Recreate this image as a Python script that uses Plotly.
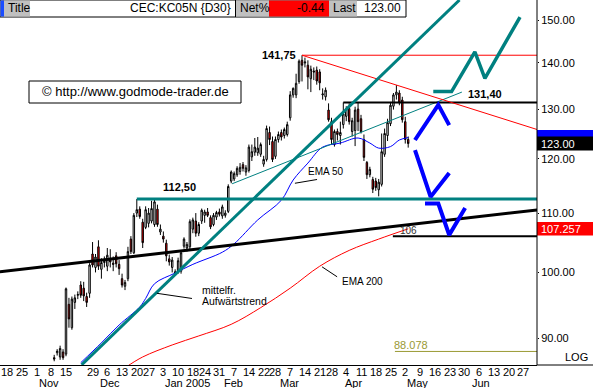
import math
import pandas as pd
import plotly.graph_objects as go

# ---------------- calendar (trading days) ----------------
holidays = ["2004-11-25", "2004-12-24", "2005-01-17", "2005-02-21", "2005-03-25"]
trading_days = pd.bdate_range("2004-10-18", "2005-07-01")
trading_days = trading_days[~trading_days.isin(pd.to_datetime(holidays))]
day_pos = {d.strftime("%Y-%m-%d"): i for i, d in enumerate(trading_days)}

# ---------------- candle data (KC May 2005, daily) ----------------
candle_start = "2004-11-09"
opens = [87.2, 87.9, 87.3, 88.0, 87.7, 95.0, 91.5, 95.3, 96.4, 98.0,
         97.5, 96.2, 96.7, 103.0, 100.8, 104.2, 100.5, 101.6, 101.0, 102.3,
         101.5, 102.7, 101.3, 99.0, 97.8, 99.0, 105.5, 103.2, 110.0, 110.7,
         108.4, 107.5, 108.2, 108.6, 108.0, 110.7, 106.7, 106.0, 104.8, 102.2,
         100.8, 100.1, 100.2, 100.2, 104.3, 104.0, 104.2, 107.2, 108.6, 106.5,
         108.6, 109.6, 110.2, 109.2, 108.0, 109.3, 110.2, 109.5, 109.6, 110.3,
         115.8, 116.2, 117.0, 117.6, 118.9, 117.5, 117.8, 120.4, 121.3, 121.2,
         120.9, 119.0, 119.9, 125.2, 123.4, 120.5, 123.8, 125.2, 124.6, 124.8,
         128.2, 133.0, 133.0, 135.9, 140.6, 140.0, 139.5, 136.5, 138.2, 138.4,
         138.0, 133.0, 132.6, 129.8, 127.4, 122.8, 125.4, 124.6, 126.8, 128.5,
         130.1, 125.4, 125.6, 130.0, 128.0, 123.8, 119.3, 117.0, 116.1, 115.8,
         114.2, 115.2, 120.9, 124.6, 127.0, 130.6, 133.0, 133.4, 131.9, 127.4,
         123.8]
highs = [87.6, 88.4, 88.9, 88.4, 97.6, 96.0, 96.2, 96.5, 97.0, 98.6,
         98.5, 96.8, 101.5, 105.0, 103.0, 105.3, 102.3, 102.6, 104.0, 103.8,
         102.6, 103.3, 102.0, 99.8, 98.8, 104.2, 106.0, 110.0, 112.5, 111.2,
         109.0, 111.2, 110.9, 112.2, 112.4, 111.5, 108.0, 106.8, 105.4, 102.9,
         102.5, 100.5, 102.4, 103.6, 105.8, 105.0, 108.9, 109.2, 110.0, 108.4,
         110.8, 110.6, 110.9, 109.6, 110.0, 110.4, 110.8, 111.5, 110.5, 115.2,
         117.8, 117.6, 118.6, 119.2, 119.4, 118.8, 122.8, 122.8, 124.1, 124.3,
         123.2, 120.6, 126.6, 126.4, 124.4, 124.4, 125.4, 125.8, 126.2, 127.4,
         133.8, 134.6, 137.6, 140.8, 141.75, 141.2, 140.6, 139.4, 139.0, 139.2,
         138.6, 134.4, 134.6, 131.2, 128.2, 125.8, 126.0, 127.4, 131.4, 130.6,
         131.2, 128.2, 130.5, 131.3, 128.8, 124.8, 119.6, 118.5, 116.6, 116.4,
         116.2, 125.0, 126.0, 128.0, 131.5, 133.4, 135.1, 134.0, 132.6, 128.4,
         124.4]
lows = [86.7, 87.5, 86.9, 86.9, 87.4, 91.5, 91.2, 94.3, 95.8, 96.0,
        95.5, 94.6, 96.0, 100.8, 100.0, 100.4, 99.0, 100.8, 100.2, 100.8,
        100.2, 100.8, 99.6, 97.6, 97.2, 98.6, 103.0, 103.0, 109.3, 109.0,
        104.0, 107.2, 107.5, 108.2, 107.6, 107.6, 106.2, 104.9, 101.8, 101.1,
        100.0, 99.5, 99.8, 99.8, 103.9, 103.4, 103.8, 106.5, 105.9, 106.0,
        108.1, 108.3, 109.3, 107.2, 107.7, 108.8, 109.4, 109.0, 109.2, 110.0,
        115.4, 115.8, 116.6, 117.0, 117.6, 116.8, 117.4, 119.6, 120.6, 120.6,
        120.4, 118.5, 119.5, 122.7, 119.4, 120.0, 123.2, 123.6, 124.0, 124.4,
        127.6, 132.4, 132.3, 135.4, 135.9, 139.0, 134.2, 133.6, 136.2, 135.2,
        134.0, 132.0, 131.8, 127.4, 122.8, 122.4, 123.6, 122.8, 126.0, 127.5,
        126.8, 124.4, 122.5, 125.5, 125.0, 119.6, 116.2, 116.5, 113.6, 114.0,
        113.0, 114.8, 120.4, 123.5, 126.5, 129.9, 132.0, 130.8, 127.2, 123.0,
        122.2]
closes = [87.0, 88.1, 88.5, 87.2, 97.4, 92.8, 95.8, 96.0, 96.5, 96.4,
          96.3, 95.3, 101.2, 101.2, 102.5, 101.0, 101.6, 101.8, 102.8, 101.7,
          101.3, 101.4, 100.6, 98.0, 98.4, 103.4, 103.4, 109.6, 110.6, 109.4,
          104.9, 110.6, 110.0, 110.8, 112.0, 108.0, 107.2, 105.5, 102.7, 101.7,
          102.0, 99.9, 101.9, 103.2, 105.5, 104.6, 108.5, 108.8, 106.5, 108.0,
          110.5, 110.2, 109.6, 107.6, 109.6, 110.1, 109.8, 111.1, 110.0, 114.8,
          117.5, 117.2, 118.2, 118.4, 118.2, 118.3, 122.3, 121.4, 122.3, 122.1,
          122.8, 119.9, 126.0, 123.8, 119.9, 123.8, 124.8, 124.3, 125.8, 126.8,
          133.0, 134.4, 135.5, 140.4, 139.5, 140.2, 136.9, 138.6, 138.0, 136.0,
          135.6, 133.2, 134.0, 127.8, 123.8, 125.4, 124.8, 125.2, 129.0, 130.0,
          127.4, 127.6, 129.8, 127.4, 125.4, 120.3, 117.0, 118.0, 114.3, 114.6,
          115.6, 121.4, 125.0, 127.2, 130.8, 133.0, 133.6, 131.3, 127.8, 123.8,
          123.0]

# ---------------- moving averages ----------------
ema50_dates = ["2004-11-22", "2004-12-02", "2004-12-10", "2004-12-21", "2004-12-23",
               "2004-12-29", "2005-01-07", "2005-01-18", "2005-02-01", "2005-02-07",
               "2005-02-17", "2005-03-02", "2005-03-08", "2005-03-15", "2005-03-22",
               "2005-03-31", "2005-04-08", "2005-04-14", "2005-04-19", "2005-04-25",
               "2005-04-28", "2005-05-03"]
ema50_values = [86.5, 89.3, 91.9, 94.6, 95.9, 98.2, 99.9, 101.3, 103.3, 104.7,
                108.8, 112.3, 116.0, 119.2, 122.3, 123.1, 124.1, 123.1, 122.1, 122.4,
                123.7, 124.2]
ema200_dates = ["2004-12-14", "2004-12-22", "2005-01-06", "2005-01-20", "2005-02-04",
                "2005-02-18", "2005-03-07", "2005-03-21", "2005-04-05", "2005-04-19",
                "2005-05-03"]
ema200_values = [85.8, 87.3, 89.0, 90.3, 92.0, 94.5, 97.5, 101.0, 103.6, 105.5, 107.257]

# ---------------- analyst drawings (trading-day index, price) ----------------
uptrend_x, uptrend_y = [25.3, 153.4], [86.2, 154.9]
thin_teal_x, thin_teal_y = [76.3, 154.2], [115.3, 133.6]
long_black_x, long_black_y = [-2.4, 179.7], [100.1, 110.55]
res_112_x, res_112_y = [44.0, 179.7], [112.5, 112.5]
res_131_x, res_131_y = [114.0, 179.7], [131.4, 131.4]
sup_106_x, sup_106_y = [130.8, 179.7], [106.0, 106.0]
low_line_x, low_line_y = [131.5, 179.7], [88.078, 88.078]
peak_h_x, peak_h_y = [100.0, 179.7], [141.75, 141.75]
peak_d_x, peak_d_y = [100.0, 179.7], [141.75, 125.8]
blue_a_x, blue_a_y = [138.3, 146.2, 149.9], [123.7, 130.9, 126.7]
blue_b_x, blue_b_y = [138.3, 143.6, 149.9], [121.7, 112.9, 117.3]
blue_c_x, blue_c_y = [141.7, 146.2, 149.9, 155.3], [111.7, 111.7, 106.2, 110.9]
teal_z_x, teal_z_y = [144.5, 150.7, 158.6, 162.0, 173.9], [133.7, 133.7, 142.5, 136.6, 150.7]
lead50_x, lead50_y = [97.6, 105.1], [115.4, 116.1]
lead200_x, lead200_y = [106.8, 111.9], [100.9, 99.3]
leadtrend_x, leadtrend_y = [50.8, 62.7], [96.7, 95.9]

y_ticks = [90, 100, 110, 120, 130, 140, 150]
month_names = ["Nov", "Dec", "Jan 2005", "Feb", "Mar", "Apr", "May", "Jun"]
tick_skip = ["2004-11-22"]

# ---------------- layout geometry ----------------
W, H = 593, 388
PL, PB = 537, 365           # plot area right edge / bottom edge in px
PX_DAY, X0 = 2.95, 7.0
x_range = [-X0 / PX_DAY, (PL - X0) / PX_DAY]
y_range = [math.log10(86.18), math.log10(154.9)]
FONT = "Liberation Sans, Arial, sans-serif"


def P(xp, yp):
    return xp / PL, (PB - yp) / PB


start = day_pos[candle_start]
cx = list(range(start, start + len(opens)))

fig = go.Figure()
fig.add_trace(go.Candlestick(
    x=cx, open=opens, high=highs, low=lows, close=closes,
    increasing=dict(fillcolor="white", line=dict(color="black", width=1)),
    decreasing=dict(fillcolor="#ff0000", line=dict(color="black", width=1)),
    whiskerwidth=0, showlegend=False, hoverinfo="skip"))


def line(xs, ys, color, width, shape="linear"):
    fig.add_trace(go.Scatter(x=xs, y=ys, mode="lines",
                             line=dict(color=color, width=width, shape=shape),
                             showlegend=False, hoverinfo="skip"))


line([day_pos[d] for d in ema200_dates], ema200_values, "#ff0000", 1, "spline")
line([day_pos[d] for d in ema50_dates], ema50_values, "#0000ff", 1, "spline")
line(thin_teal_x, thin_teal_y, "#008080", 1)
line(res_112_x, res_112_y, "#008080", 3)
line(long_black_x, long_black_y, "black", 3)
line(res_131_x, res_131_y, "black", 2)
line(sup_106_x, sup_106_y, "black", 2)
line(low_line_x, low_line_y, "#999933", 1)
line(peak_h_x, peak_h_y, "#ff0000", 1)
line(peak_d_x, peak_d_y, "#ff0000", 1)
line(uptrend_x, uptrend_y, "#008080", 3)
line(blue_a_x, blue_a_y, "#0000ff", 4)
line(blue_b_x, blue_b_y, "#0000ff", 4)
line(blue_c_x, blue_c_y, "#0000ff", 4)
line(teal_z_x, teal_z_y, "#008080", 3.5)
line(lead50_x, lead50_y, "black", 1)
line(lead200_x, lead200_y, "black", 1)
line(leadtrend_x, leadtrend_y, "black", 1)

# x ticks: first trading day of each week
week_first = {}
for d in trading_days:
    k = d.isocalendar()[:2]
    if k not in week_first:
        week_first[k] = d
tick_vals, tick_text = [], []
for d in week_first.values():
    s = d.strftime("%Y-%m-%d")
    if s in tick_skip:
        continue
    tick_vals.append(day_pos[s])
    tick_text.append(str(d.day))

month_first = []
seen = set()
for d in trading_days:
    k = (d.year, d.month)
    if k not in seen:
        seen.add(k)
        month_first.append(d)
month_first = [d for d in month_first if d >= pd.Timestamp("2004-11-01")][:len(month_names)]

shapes = []
annotations = []


def rect(x0, y0, x1, y1, fill, border=None):
    a0, b0 = P(x0, y0)
    a1, b1 = P(x1, y1)
    shapes.append(dict(type="rect", xref="paper", yref="paper", x0=a0, y0=b0, x1=a1, y1=b1,
                       fillcolor=fill, line=dict(color=border or fill, width=1 if border else 0),
                       layer="above"))


def seg(x0, y0, x1, y1, color="black", width=1):
    a0, b0 = P(x0, y0)
    a1, b1 = P(x1, y1)
    shapes.append(dict(type="line", xref="paper", yref="paper", x0=a0, y0=b0, x1=a1, y1=b1,
                       line=dict(color=color, width=width), layer="above"))


def text(t, xp, yp, anchor="left", size=11, color="black", bold=False):
    a, b = P(xp, yp)
    annotations.append(dict(text=("<b>%s</b>" % t) if bold else t, x=a, y=b,
                            xref="paper", yref="paper", xanchor=anchor, yanchor="middle",
                            showarrow=False, font=dict(family=FONT, size=size, color=color)))


# header bar
rect(0, 0, 406, 17, "white", "black")
rect(0.5, 0.5, 4, 16.5, "#1a4cff")
rect(4, 0.5, 30, 16.5, "#c0c0c0")
rect(236, 0.5, 269, 16.5, "#c0c0c0")
rect(269, 0.5, 329, 16.5, "#ff0000")
rect(329, 0.5, 357, 16.5, "#c0c0c0")
seg(235.5, 0, 235.5, 17)
text("Title", 6, 8.5, size=12)
text("CEC:KC05N {D30}", 233, 8.5, anchor="right", size=12)
text("Net%", 238, 8.5, size=12)
text("-0.44", 327, 8.5, anchor="right", size=12)
text("Last", 331, 8.5, size=12)
text("123.00", 403, 8.5, anchor="right", size=12)

# copyright box
rect(29, 81, 241, 103, "white", "black")
text("\u00a9 http://www.godmode-trader.de", 135, 92, anchor="center", size=13)

# chart labels
text("141,75", 279, 55, anchor="center", bold=True)
text("112,50", 179, 187, anchor="center", bold=True)
text("131,40", 485, 94, anchor="center", bold=True)
text("88.078", 411, 345, anchor="center", color="#999933")
text("106", 408, 230, anchor="center", size=10, color="#333333")
text("EMA 50", 306, 172, size=10)
text("EMA 200", 340, 281, size=10)
text("mittelfr.", 200, 290, size=10.5)
text("Aufw\u00e4rtstrend", 200, 301, size=10.5)

# right side price boxes
rect(537, 130, 593, 143.5, "#0000ff")
rect(537, 136.5, 593, 150.5, "black")
text("123.00", 539, 143.5, color="white")
rect(537, 222, 593, 235.5, "#ff0000")
text("107.257", 539, 229, color="white")
text("LOG", 590, 357, anchor="right")

# axis lines extended
seg(PL, PB, W, PB)
seg(PL, 0, PL, PB)

# day labels (x axis ticks) and month labels
for v, t in zip(tick_vals, tick_text):
    text(t, X0 + v * PX_DAY, 371.5, anchor="center")
for name, d in zip(month_names, month_first):
    xp = X0 + day_pos[d.strftime("%Y-%m-%d")] * PX_DAY
    text(name, xp, 382.5, anchor="left")

fig.update_layout(
    width=W, height=H,
    margin=dict(l=0, r=W - PL, t=0, b=H - PB, autoexpand=False),
    paper_bgcolor="white", plot_bgcolor="white",
    font=dict(family=FONT, size=11, color="black"),
    shapes=shapes, annotations=annotations,
    xaxis=dict(range=x_range, showgrid=False, zeroline=False, showline=True,
               linecolor="black", linewidth=1, tickmode="array", tickvals=tick_vals,
               showticklabels=False, ticks="", rangeslider=dict(visible=False)),
    yaxis=dict(type="log", range=y_range, side="right", showgrid=False, zeroline=False,
               showline=False, tickmode="array", tickvals=y_ticks,
               ticktext=["%.2f" % v for v in y_ticks], ticks="outside", ticklen=1,
               tickcolor="black", tickfont=dict(family=FONT, size=11, color="black")),
)

fig.write_html("out.html")
